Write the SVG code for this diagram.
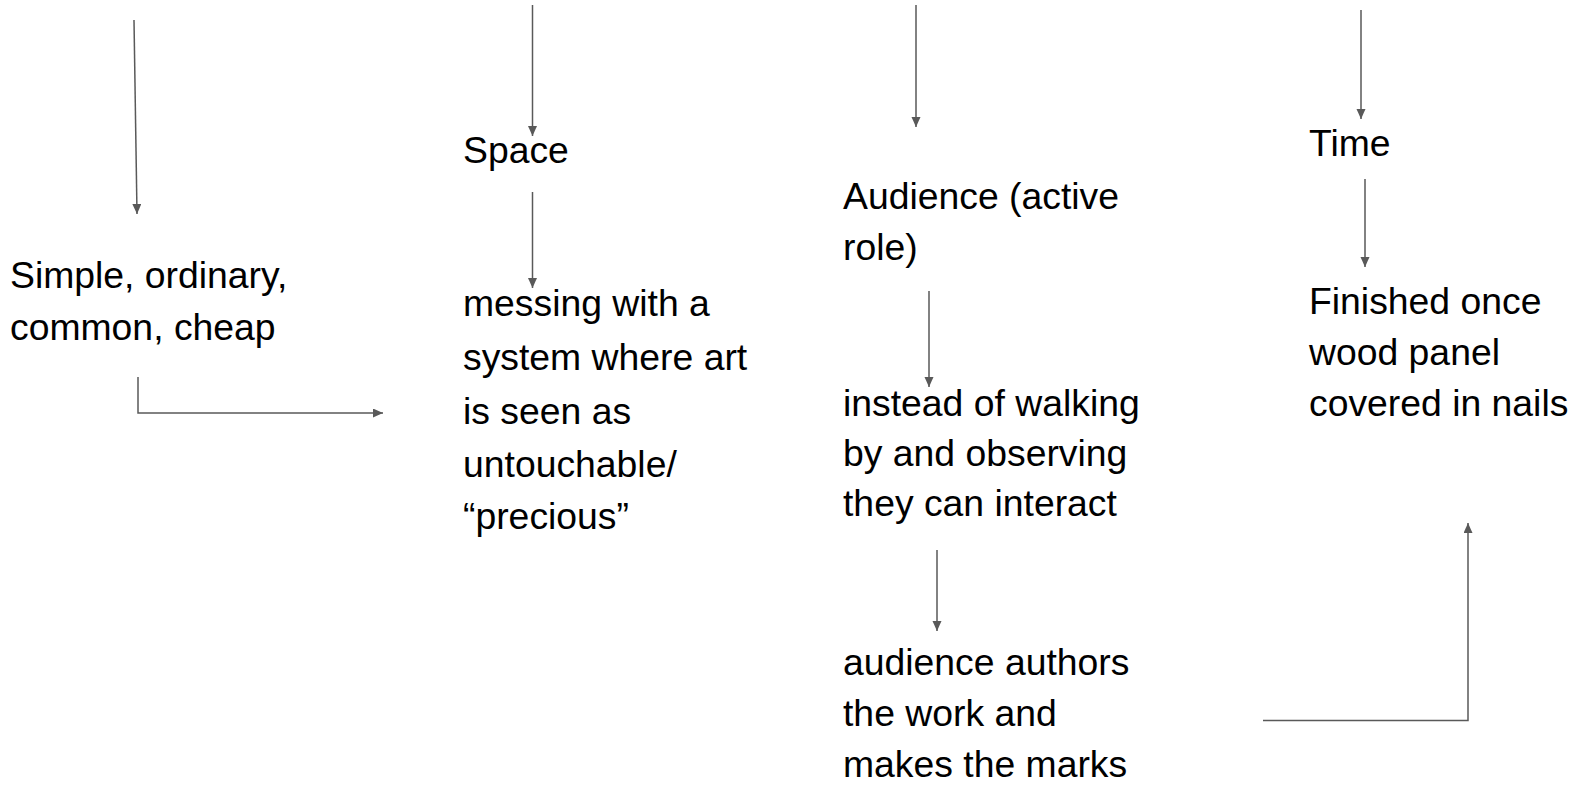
<svg xmlns="http://www.w3.org/2000/svg" width="1575" height="785" viewBox="0 0 1575 785">
<style>
  .t { font-family: "Liberation Sans", Arial, sans-serif; font-size: 37.33px; fill: #000000; }
  .c { fill: none; stroke: #595959; stroke-width: 1.5; }
</style>
<defs>
  <marker id="ah" markerUnits="userSpaceOnUse" markerWidth="11" markerHeight="10" refX="10" refY="4.5" orient="auto">
    <path d="M0,0 L10,4.5 L0,9 z" fill="#595959"/>
  </marker>
</defs>
<rect width="1575" height="785" fill="#ffffff"/>
<g id="connectors">
  <path class="c" d="M134,20 L137,214" marker-end="url(#ah)"/>
  <path class="c" d="M138,377 L138,413 L383,413" marker-end="url(#ah)"/>
  <path class="c" d="M532.5,5 L532.5,136" marker-end="url(#ah)"/>
  <path class="c" d="M532.5,192 L532.5,288" marker-end="url(#ah)"/>
  <path class="c" d="M916,5 L916,127" marker-end="url(#ah)"/>
  <path class="c" d="M929,291 L929,387" marker-end="url(#ah)"/>
  <path class="c" d="M937,550 L937,631" marker-end="url(#ah)"/>
  <path class="c" d="M1361,10 L1361,119" marker-end="url(#ah)"/>
  <path class="c" d="M1365,179 L1365,267" marker-end="url(#ah)"/>
  <path class="c" d="M1263,720.5 L1468,720.5 L1468,523" marker-end="url(#ah)"/>
</g>
<g id="node-simple">
  <text class="t" x="10" y="288">Simple, ordinary,</text>
  <text class="t" x="10" y="340">common, cheap</text>
</g>
<g id="node-space">
  <text class="t" x="463" y="163">Space</text>
</g>
<g id="node-messing">
  <text class="t" x="463" y="316">messing with a</text>
  <text class="t" x="463" y="370">system where art</text>
  <text class="t" x="463" y="424">is seen as</text>
  <text class="t" x="463" y="477">untouchable/</text>
  <text class="t" x="463" y="529">“precious”</text>
</g>
<g id="node-audience">
  <text class="t" x="843" y="209">Audience (active</text>
  <text class="t" x="843" y="260">role)</text>
</g>
<g id="node-instead">
  <text class="t" x="843" y="416">instead of walking</text>
  <text class="t" x="843" y="466">by and observing</text>
  <text class="t" x="843" y="516">they can interact</text>
</g>
<g id="node-authors">
  <text class="t" x="843" y="675">audience authors</text>
  <text class="t" x="843" y="726">the work and</text>
  <text class="t" x="843" y="777">makes the marks</text>
</g>
<g id="node-time">
  <text class="t" x="1309" y="156">Time</text>
</g>
<g id="node-finished">
  <text class="t" x="1309" y="314">Finished once</text>
  <text class="t" x="1309" y="365">wood panel</text>
  <text class="t" x="1309" y="416">covered in nails</text>
</g>
</svg>
